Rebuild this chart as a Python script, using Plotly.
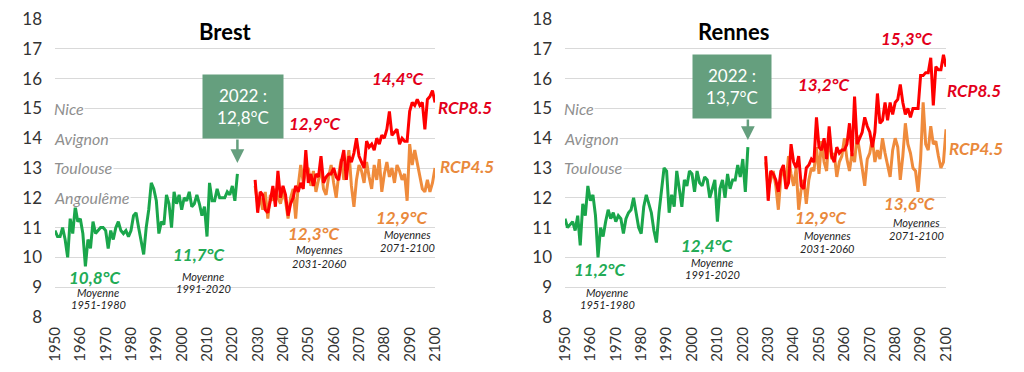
import plotly.graph_objects as go

# ---------------- data ----------------
years_obs = list(range(1950, 2023))
years_proj = list(range(2029, 2101))

brest_obs = [
    10.9, 10.7, 10.7, 11.0, 10.6, 10.0, 11.3, 10.8, 11.7, 11.2,
    11.3, 10.8, 9.7, 10.6, 10.3, 11.2, 10.8, 10.9, 11.0, 11.0,
    10.9, 10.3, 10.9, 10.6, 11.0, 11.2, 10.9, 10.8, 10.9, 10.7,
    10.9, 11.4, 11.5, 11.0, 10.6, 10.1, 11.0, 11.6, 12.5, 12.3,
    11.9, 10.8, 11.2, 11.1, 12.1, 11.8, 11.0, 12.2, 11.8, 12.1,
    11.6, 12.0, 11.9, 12.2, 11.7, 11.8, 12.1, 11.8, 11.4, 11.7,
    10.7, 12.5, 11.9, 11.9, 12.3, 12.0, 12.0, 12.0, 12.2, 12.1,
    12.4, 11.9, 12.8,
]
brest_rcp85 = [
    12.6,
    11.5, 12.2, 12.1, 11.6, 11.5, 11.9, 12.4, 11.7, 12.9, 12.0,
    12.4, 12.1, 11.4, 11.8, 12.0, 12.4, 12.2, 12.5, 12.3, 13.6,
    12.5, 12.8, 12.4, 12.8, 12.7, 13.4, 12.5, 12.7, 12.8, 12.8,
    13.0, 12.7, 12.6, 13.2, 13.6, 12.6, 13.4, 13.2, 13.5, 14.0,
    13.4, 13.2, 13.0, 13.9, 13.7, 13.8, 13.6, 14.0, 13.8, 14.1,
    14.0, 14.3, 14.9, 14.1, 14.2, 14.3, 13.8, 14.0, 13.9, 13.9,
    14.9, 15.2, 15.1, 15.3, 15.1, 15.2, 14.3, 15.3, 15.4, 15.6, 15.2,
]
brest_rcp45 = [
    12.4,
    11.8, 12.0, 11.6, 12.2, 11.3, 12.1, 11.9, 12.3, 12.0, 11.8,
    12.2, 11.9, 11.3, 12.0, 12.3, 11.3, 12.4, 13.1, 12.5, 12.9,
    13.0, 12.4, 12.9, 12.2, 12.6, 13.0, 12.3, 12.1, 12.7, 13.1,
    12.5, 12.0, 12.8, 13.3, 12.6, 12.9, 13.6, 12.4, 11.7, 12.6,
    13.1, 12.9, 12.5, 13.2, 12.7, 12.3, 13.1, 12.6, 13.3, 12.2,
    12.8, 13.2, 12.7, 13.0, 12.5, 13.1, 12.9, 12.6, 12.8, 11.9,
    13.8, 13.1, 13.6, 13.2, 12.7, 12.3, 12.2, 12.6, 12.2, 12.5, 13.0,
]

rennes_obs = [
    11.3, 11.0, 11.1, 11.2, 10.9, 11.4, 10.4, 11.8, 11.4, 12.4,
    11.9, 12.1, 11.4, 10.0, 11.0, 10.7, 11.2, 11.6, 11.3, 11.5,
    11.2, 11.4, 11.3, 10.8, 11.3, 11.5, 11.6, 12.0, 11.5, 11.0,
    10.8, 11.7, 12.1, 11.8, 11.5, 10.9, 10.5, 11.5, 12.3, 13.0,
    12.9, 11.5, 12.1, 11.7, 12.9, 12.3, 11.7, 12.6, 12.4, 12.9,
    12.8, 12.2, 12.9, 12.5, 12.4, 12.7, 12.6, 12.0, 12.3, 12.6,
    11.2, 12.3, 12.6, 12.0, 12.8, 12.3, 12.6, 12.6, 13.1, 12.7,
    13.3, 12.2, 13.7,
]
rennes_rcp85 = [
    13.4,
    11.9, 12.9, 12.8, 12.6, 12.2, 12.9, 13.1, 12.3, 12.5, 13.8,
    13.2, 13.0, 13.4, 12.4, 12.3, 13.0, 13.1, 13.3, 13.2, 14.7,
    13.7, 13.6, 14.0, 13.3, 14.4, 13.4, 13.2, 13.7, 13.5, 13.6,
    13.6, 13.8, 14.5, 13.4, 15.4, 13.8, 14.0, 14.2, 14.7, 14.4,
    14.2, 13.7, 14.2, 15.5, 14.5, 14.6, 15.2, 14.6, 15.2, 14.8,
    15.2, 15.3, 15.8, 15.2, 14.8, 15.0, 14.7, 15.0, 15.0, 15.0,
    16.1, 16.1, 16.2, 16.2, 16.7, 15.1, 16.4, 16.3, 16.3, 16.8, 16.4,
]
rennes_rcp45 = [
    13.2,
    12.3, 12.6, 12.9, 12.4, 11.6, 12.7, 13.0, 12.5, 13.4, 12.8,
    12.4, 13.0, 11.6, 12.3, 12.6, 11.8, 12.6, 13.0, 12.9, 13.7,
    12.8, 13.9, 13.2, 12.9, 14.2, 13.3, 13.5, 12.7, 13.2, 13.4,
    14.0, 13.3, 12.9, 13.5, 13.2, 14.1, 13.6, 13.0, 12.4, 13.3,
    13.5, 14.0, 13.2, 13.6, 13.3, 14.0, 13.5, 13.1, 12.7, 13.6,
    14.0, 13.7, 12.6, 13.4, 14.5, 13.8, 13.5, 13.0, 12.9, 12.2,
    13.3, 15.2, 13.8, 13.6, 14.4, 13.8, 13.9, 13.4, 13.0, 13.2, 14.3,
]

y_ticks = list(range(8, 19))
x_ticks = list(range(1950, 2101, 10))
brest_city_names = ["Nice", "Avignon", "Toulouse", "Angoulême"]
brest_city_temps = [15, 14, 13, 12]
rennes_city_names = ["Nice", "Avignon", "Toulouse"]
rennes_city_temps = [15, 14, 13]

# ---------------- style ----------------
W, H = 1024, 372
FONT = "Lato"
GREEN = "#1aa64b"
RED = "#ff0000"
ORANGE = "#ef8b3c"
GREEN_T = "#22ab55"
RED_T = "#e3001b"
ORANGE_T = "#e9893c"
BOX = "#659f7e"
GRID = "#d9d9d9"
GREY = "#8f8f8f"

fig = go.Figure()

panels = [
    ("x", "y", brest_obs, brest_rcp85, brest_rcp45),
    ("x2", "y2", rennes_obs, rennes_rcp85, rennes_rcp45),
]
for xa, ya, obs, r85, r45 in panels:
    fig.add_trace(go.Scatter(x=years_proj, y=r45, mode="lines", xaxis=xa, yaxis=ya,
                             line=dict(color=ORANGE, width=3), showlegend=False))
    fig.add_trace(go.Scatter(x=years_proj, y=r85, mode="lines", xaxis=xa, yaxis=ya,
                             line=dict(color=RED, width=3), showlegend=False))
    fig.add_trace(go.Scatter(x=years_obs, y=obs, mode="lines", xaxis=xa, yaxis=ya,
                             line=dict(color=GREEN, width=3), showlegend=False))

ydom = [(H - 317) / H, (H - 19) / H]
xcommon = dict(range=[1950, 2100], tickmode="array", tickvals=x_ticks,
               tickangle=-90, showgrid=False, zeroline=False, showline=False,
               ticks="", ticklabelstandoff=6, automargin=False,
               tickfont=dict(family=FONT, size=15, color="#333333"))
ycommon = dict(range=[8, 18], tickmode="array", tickvals=y_ticks, domain=ydom,
               showgrid=True, gridcolor=GRID, gridwidth=1, zeroline=False,
               showline=False, ticks="", ticklabelstandoff=12, automargin=False,
               tickfont=dict(family=FONT, size=17, color="#333333"))

fig.update_layout(
    width=W, height=H, margin=dict(l=0, r=0, t=0, b=0),
    paper_bgcolor="white", plot_bgcolor="white", template="none",
    xaxis=dict(domain=[55 / W, 435 / W], anchor="y", **xcommon),
    yaxis=dict(anchor="x", **ycommon),
    xaxis2=dict(domain=[565 / W, 946 / W], anchor="y2", **xcommon),
    yaxis2=dict(anchor="x2", **ycommon),
)

ann = []


def text(px, py, s, size, color, bold=False, italic=True, xanchor="center"):
    t = s
    if bold:
        t = "<b>" + t + "</b>"
    if italic:
        t = "<i>" + t + "</i>"
    ann.append(dict(xref="paper", yref="paper", x=px / W, y=1 - py / H, text=t,
                    showarrow=False, xanchor=xanchor, yanchor="middle",
                    font=dict(family=FONT, size=size, color=color)))


def panel(x0, xa, ya, title, tx, names, temps, box, box_txt, arrow_y, arrow_len, labels):
    text(tx, 31, title, 22, "black", bold=True, italic=False)
    for name, t in zip(names, temps):
        ann.append(dict(xref="paper", yref=ya, x=x0 / W, y=t, text="<i>" + name + "</i>",
                        showarrow=False, xanchor="left", yanchor="middle",
                        bgcolor="white", borderpad=0,
                        font=dict(family=FONT, size=16, color=GREY)))
    bx, by, bw, bh = box
    ann.append(dict(xref="paper", yref="paper", x=bx / W, y=1 - by / H, text=box_txt,
                    showarrow=False, xanchor="center", yanchor="middle",
                    width=bw, height=bh, bgcolor=BOX, borderpad=0,
                    font=dict(family=FONT, size=17, color="white")))
    ann.append(dict(xref=xa, yref=ya, x=2022, y=arrow_y, ax=0, ay=-arrow_len,
                    text="", showarrow=True, arrowhead=2, arrowsize=1.1,
                    arrowwidth=2.5, arrowcolor=BOX))
    for (px, py, s, size, color, bold) in labels:
        text(px, py, s, size, color, bold=bold)


panel(53, "x", "y", "Brest", 225, brest_city_names, brest_city_temps,
      (243, 106.5, 80, 63), "2022 :<br>12,8°C",
      8 + (317 - 163) / 29.8, 25,
      [
          (95, 277, "10,8°C", 17, GREEN_T, True),
          (98, 292, "Moyenne", 11, "#222222", False),
          (98, 304, "1951-1980", 11, "#222222", False),
          (199, 255, "11,7°C", 17, GREEN_T, True),
          (203, 276, "Moyenne", 11, "#222222", False),
          (203, 288, "1991-2020", 11, "#222222", False),
          (315, 124, "12,9°C", 17, RED_T, True),
          (398, 78, "14,4°C", 17, RED_T, True),
          (465, 108, "RCP8.5", 17, RED_T, True),
          (467, 166, "RCP4.5", 17, ORANGE_T, True),
          (314, 233, "12,3°C", 17, ORANGE_T, True),
          (319, 250, "Moyennes", 11, "#222222", False),
          (319, 263, "2031-2060", 11, "#222222", False),
          (402, 217, "12,9°C", 17, ORANGE_T, True),
          (407, 234, "Moyennes", 11, "#222222", False),
          (407, 247, "2071-2100", 11, "#222222", False),
      ])

panel(563, "x2", "y2", "Rennes", 733, rennes_city_names, rennes_city_temps,
      (732, 86.5, 78, 63), "2022 :<br>13,7°C",
      8 + (317 - 140) / 29.8, 22,
      [
          (600, 269, "11,2°C", 17, GREEN_T, True),
          (607, 292, "Moyenne", 11, "#222222", False),
          (607, 304, "1951-1980", 11, "#222222", False),
          (707, 245, "12,4°C", 17, GREEN_T, True),
          (712, 262, "Moyenne", 11, "#222222", False),
          (712, 274, "1991-2020", 11, "#222222", False),
          (824, 84, "13,2°C", 17, RED_T, True),
          (907, 38, "15,3°C", 17, RED_T, True),
          (974, 90, "RCP8.5", 17, RED_T, True),
          (976, 148, "RCP4.5", 17, ORANGE_T, True),
          (821, 217, "12,9°C", 17, ORANGE_T, True),
          (827, 235, "Moyennes", 11, "#222222", False),
          (827, 248, "2031-2060", 11, "#222222", False),
          (909, 204, "13,6°C", 17, ORANGE_T, True),
          (916, 222, "Moyennes", 11, "#222222", False),
          (916, 235, "2071-2100", 11, "#222222", False),
      ])

fig.update_layout(annotations=ann)
fig.write_html("out.html", config={"displayModeBar": False},
               post_script="document.body.style.margin='0px';")
